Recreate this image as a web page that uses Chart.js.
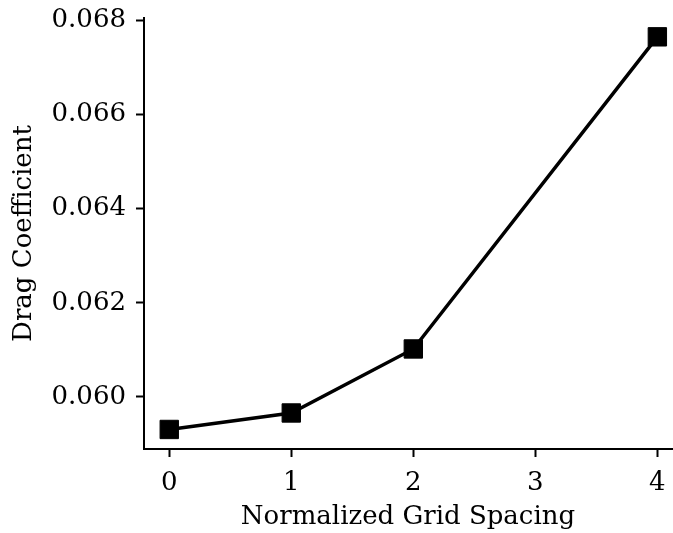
<!DOCTYPE html>
<html>
<head>
<meta charset="utf-8">
<script src="https://cdn.jsdelivr.net/npm/chart.js@4"></script>
<style>
  html, body { margin: 0; padding: 0; background: #fff; overflow: hidden; }
</style>
</head>
<body>
<canvas id="drag-chart" width="673" height="533"></canvas>
<script>
// data
const gridSpacing = [0, 1, 2, 4];
const dragCoefficient = [0.05931, 0.05966, 0.06102, 0.06765];
const xTickValues = [0, 1, 2, 3, 4];
const yTickValues = [0.060, 0.062, 0.064, 0.066, 0.068];

const points = gridSpacing.map((x, i) => ({ x: x, y: dragCoefficient[i] }));

const font = { family: "'DejaVu Serif', serif", size: 26 };

const axisCommon = {
    border: { display: true, color: '#000', width: 2 },
    grid: {
        drawOnChartArea: false,
        drawTicks: true,
        tickLength: 8,
        tickWidth: 2,
        tickColor: '#000'
    }
};

// fixed axis boxes so the plot area sits where the reference has it
function fixBox(size) {
    return (axis) => {
        if (axis.isHorizontal()) {
            axis.height = size;
        } else {
            axis.width = size;
        }
        axis.paddingLeft = 0;
        axis.paddingRight = 0;
        axis.paddingTop = 0;
        axis.paddingBottom = 0;
    };
}

// config
const config = {
    type: 'scatter',
    data: {
        datasets: [{
            data: points,
            showLine: true,
            borderColor: '#000',
            backgroundColor: '#000',
            borderWidth: 3.5,
            pointStyle: 'rect',
            pointRadius: 13,
            pointBorderWidth: 1,
            pointHoverRadius: 13,
            clip: false
        }]
    },
    options: {
        responsive: false,
        animation: false,
        devicePixelRatio: 1,
        layout: { autoPadding: false, padding: { top: 18, right: 1, bottom: 0, left: 0 } },
        plugins: {
            legend: { display: false },
            tooltip: { enabled: false }
        },
        scales: {
            x: {
                type: 'linear',
                min: -0.207,
                max: 4.12,
                ...axisCommon,
                afterBuildTicks: (axis) => { axis.ticks = xTickValues.map(v => ({ value: v })); },
                afterFit: fixBox(84),
                ticks: {
                    color: '#000',
                    font: font,
                    padding: 11,
                    maxRotation: 0,
                    callback: (v) => String(v)
                },
                title: {
                    display: true,
                    text: 'Normalized Grid Spacing',
                    color: '#000',
                    font: font,
                    padding: { top: 0, bottom: 0 }
                }
            },
            y: {
                type: 'linear',
                min: 0.058895,
                max: 0.06805,
                ...axisCommon,
                afterBuildTicks: (axis) => { axis.ticks = yTickValues.map(v => ({ value: v })); },
                afterFit: fixBox(144),
                ticks: {
                    color: '#000',
                    font: font,
                    padding: 10,
                    callback: (v) => v.toFixed(3)
                },
                title: {
                    display: true,
                    text: 'Drag Coefficient',
                    color: '#000',
                    font: font,
                    padding: { top: 9, bottom: 0 }
                }
            }
        }
    }
};

// render
const myChart = new Chart(document.getElementById('drag-chart'), config);
</script>
</body>
</html>
